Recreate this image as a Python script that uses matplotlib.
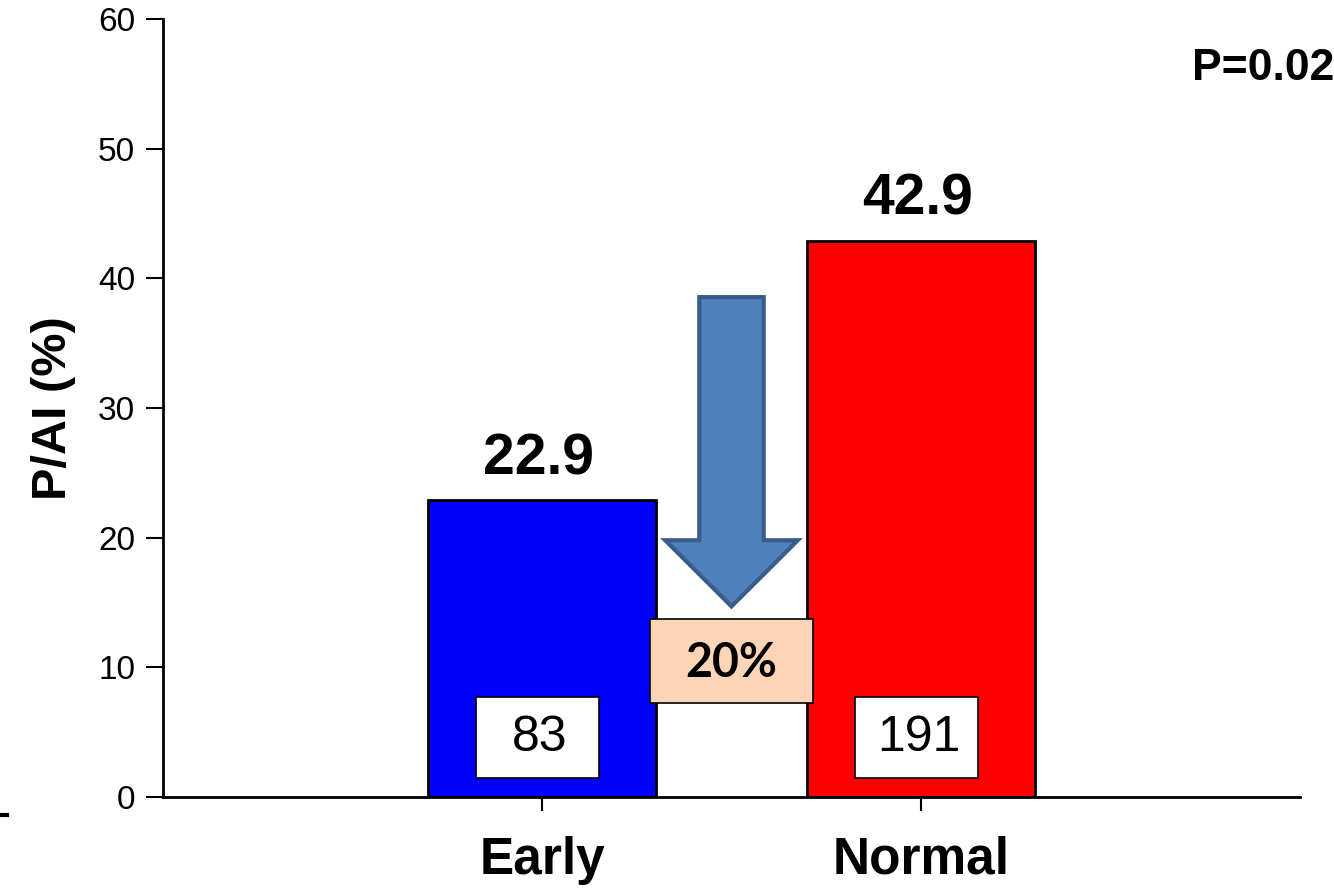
import matplotlib.pyplot as plt
from matplotlib.patches import Rectangle
from matplotlib.lines import Line2D

groups = ["Early", "Normal"]
values = [22.9, 42.9]
counts = ["83", "191"]
bar_colors = ["#0000FF", "#FF0000"]
reduction_label = "20%"
p_label = "P=0.02"

plt.rcParams["font.family"] = ["Liberation Sans", "DejaVu Sans"]

fig = plt.figure(figsize=(13.34, 8.88), dpi=100)
ax = fig.add_axes([0.1222, 0.1025, 0.8523, 0.8761])

xpos = [1, 2]
ax.bar(xpos, values, width=0.6, color=bar_colors, edgecolor="black", linewidth=2, zorder=2)

ax.set_xlim(0, 3)
ax.set_ylim(0, 60)
ax.set_yticks(range(0, 61, 10))
ax.set_xticks(xpos)
ax.set_xticklabels(groups, fontsize=37, fontweight="bold")
ax.tick_params(axis="x", length=10, width=1.5, pad=18)
ax.tick_params(axis="y", length=12, width=1.5, labelsize=24, pad=8)
for side in ["top", "right"]:
    ax.spines[side].set_visible(False)
for side in ["left", "bottom"]:
    ax.spines[side].set_linewidth(2)

ax.set_ylabel("P/AI (%)", fontsize=35, fontweight="bold", labelpad=16)

# value labels above bars
for x, v in zip(xpos, values):
    ax.text(x - 0.01, v + 2.0, f"{v}", ha="center", va="baseline",
            fontsize=41, fontweight="bold", zorder=3)

# sample size boxes
for x, n in zip(xpos, counts):
    ax.add_patch(Rectangle((x - 0.175, 1.45), 0.325, 6.25, facecolor="white",
                           edgecolor="black", linewidth=1.2, zorder=3))
    ax.text(x - 0.005, 4.55, n, ha="center", va="center", fontsize=36, zorder=4)

# arrow showing reduction
ax.arrow(1.5, 38.55, 0, 14.7 - 38.55, width=0.17, head_width=0.35,
         head_length=5.1, length_includes_head=True, facecolor="#4F81BD",
         edgecolor="#385D8A", linewidth=3, zorder=3)

ax.add_patch(Rectangle((1.285, 7.25), 0.43, 6.45, facecolor="#FBD5B5",
                       edgecolor="black", linewidth=1.2, zorder=3, clip_on=False))
ax.text(1.5, 10.3, reduction_label, ha="center", va="center", fontsize=33.5,
        fontweight="bold", family=["Lato", "DejaVu Sans"], zorder=4)

ax.text(1.03, 55.3, p_label, transform=ax.get_yaxis_transform(), ha="right",
        va="baseline", fontsize=32, fontweight="bold")

fig.add_artist(Line2D([0, 0.0053], [0.0825, 0.0825], color="black", linewidth=3))

fig.savefig("out.png", dpi=100)
